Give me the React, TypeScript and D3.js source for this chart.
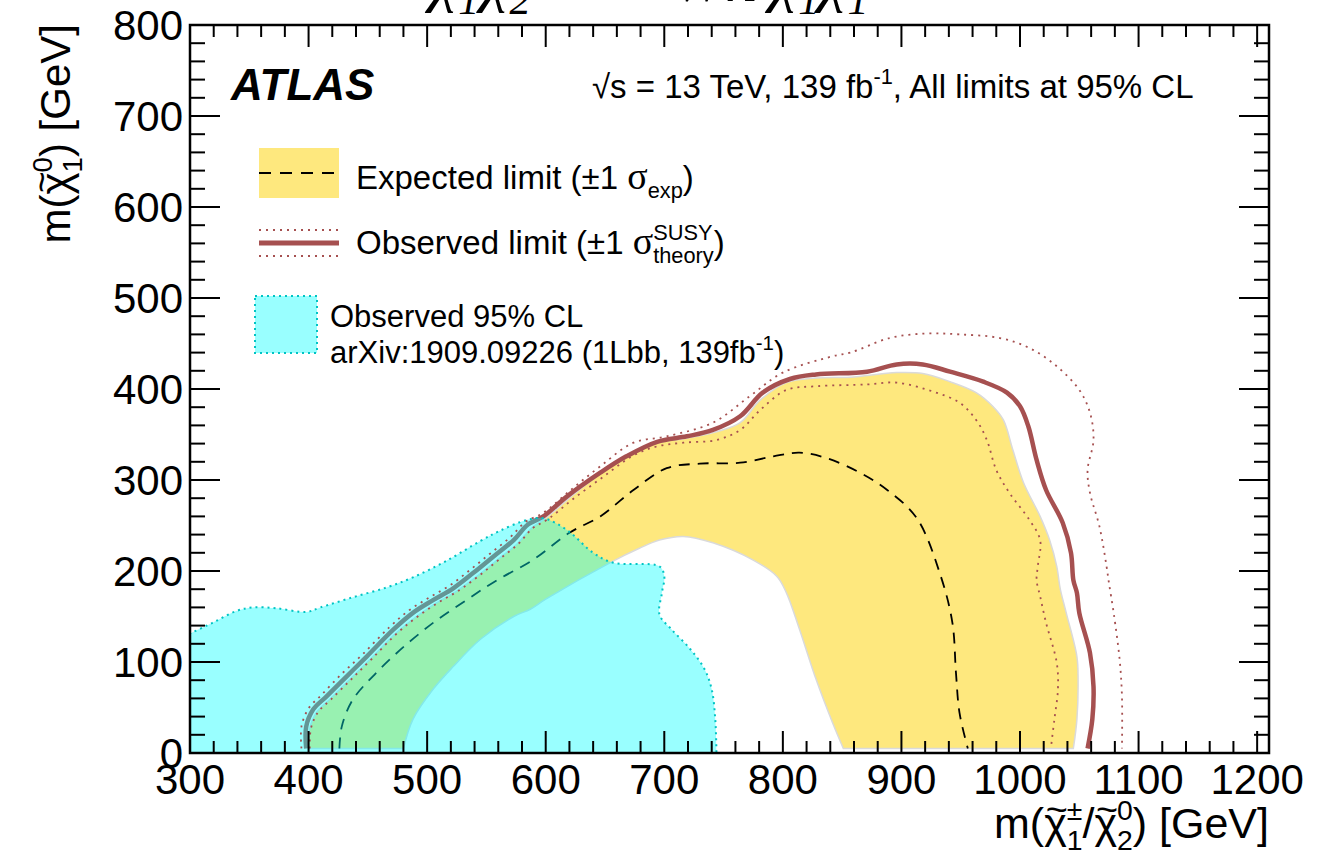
import React, { useEffect, useRef } from "react";
import * as d3 from "d3";

const W = 1332;
const H = 860;
const FRAME = { left: 190, right: 1269, top: 25, bottom: 753 };
const X_DOMAIN: [number, number] = [300, 1210];
const Y_DOMAIN: [number, number] = [0, 800];
const X_MAJOR = [300, 400, 500, 600, 700, 800, 900, 1000, 1100, 1200];
const Y_MAJOR = [0, 100, 200, 300, 400, 500, 600, 700, 800];

const YELLOW = "#fee87e";
const RED = "#a65050";
const CYAN = "rgb(0,255,255)";
const CYAN_EDGE = "#00c4c4";
const FONT = "'Liberation Sans', Arial, Helvetica, sans-serif";
const SERIF = "'Liberation Serif', 'Times New Roman', serif";

// Expected limit (median)
const expected: [number, number][] = [
  [426, 5], [428, 29], [437, 58], [454, 84], [477, 113], [505, 143], [533, 168], [559, 190],
  [589, 212], [620, 242], [646, 260], [674, 289], [702, 313], [730, 318], [764, 319],
  [792, 326], [814, 330], [837, 324], [865, 308], [888, 289], [913, 258], [933, 195],
  [943, 143], [946, 88], [949, 44], [956, 5],
];
// Expected +1 sigma (outer edge of band)
const expectedUp: [number, number][] = [
  [400, 5], [401, 27], [407, 45], [418, 59], [435, 81], [452, 103], [474, 132], [491, 150],
  [508, 165], [525, 178], [542, 194], [559, 212], [576, 230], [588, 247], [600, 258],
  [632, 293], [668, 326], [694, 341], [719, 346], [744, 353], [764, 363], [781, 388],
  [803, 407], [828, 412], [857, 413], [896, 418], [918, 417], [941, 408], [963, 396],
  [977, 381], [986, 366], [994, 333], [1003, 297], [1017, 260], [1025, 234], [1031, 205],
  [1034, 180], [1039, 154], [1048, 106], [1049, 80], [1048, 37], [1045, 5],
];
// Expected -1 sigma (inner edge of band)
const expectedDown: [number, number][] = [
  [480, 5], [488, 37], [505, 70], [522, 95], [545, 125], [573, 150], [587, 158], [600, 169],
  [654, 209], [679, 225], [696, 234], [716, 238], [741, 231], [775, 212], [795, 194],
  [803, 176], [814, 136], [828, 81], [842, 33], [851, 5],
];
// Observed limit
const observed: [number, number][] = [
  [398, 5], [398, 29], [404, 48], [415, 62], [432, 84], [449, 106], [471, 135], [488, 154],
  [505, 168], [522, 181], [539, 198], [556, 216], [573, 234], [585, 251], [598, 260],
  [618, 282], [646, 308], [668, 326], [694, 342], [719, 348], [741, 355], [764, 370],
  [783, 396], [806, 411], [828, 416], [871, 419], [896, 427], [918, 427], [941, 419],
  [969, 408], [989, 396], [1000, 381], [1007, 359], [1014, 322], [1022, 289], [1036, 253],
  [1043, 220], [1045, 190], [1048, 176], [1050, 154], [1059, 110], [1062, 73], [1061, 37],
  [1057, 5],
];
// Observed +1 sigma theory
const observedUp: [number, number][] = [
  [394, 5], [394, 29], [400, 49], [411, 64], [428, 87], [446, 109], [468, 138], [485, 157],
  [502, 171], [519, 184], [536, 201], [553, 219], [570, 237], [583, 254], [598, 264],
  [622, 290], [646, 315], [674, 341], [702, 348], [741, 363], [772, 392], [800, 418],
  [842, 436], [857, 440], [890, 456], [921, 461], [949, 460], [983, 456], [1008, 445],
  [1031, 425], [1050, 399], [1059, 374], [1062, 344], [1057, 311], [1059, 286], [1067, 249],
  [1073, 205], [1075, 187], [1079, 154], [1084, 103], [1086, 62], [1086, 5],
];
// Observed -1 sigma theory
const observedDown: [number, number][] = [
  [401, 5], [402, 27], [408, 45], [419, 59], [436, 81], [453, 103], [475, 132], [492, 150],
  [509, 165], [526, 178], [543, 194], [560, 212], [577, 230], [589, 247], [602, 257],
  [622, 278], [648, 303], [674, 327], [694, 337], [716, 341], [744, 344], [764, 355],
  [781, 377], [803, 399], [828, 403], [871, 405], [896, 407], [927, 397], [949, 385],
  [963, 366], [972, 344], [980, 311], [991, 286], [1008, 256], [1017, 234], [1015, 205],
  [1014, 190], [1017, 172], [1022, 143], [1031, 99], [1032, 70], [1029, 37], [1026, 5],
];
// Observed 95% CL, arXiv:1909.09226 (1Lbb)
const oneLbb: [number, number][] = [
  [290, 126], [301, 132], [319, 143], [339, 156], [353, 160], [373, 159], [398, 155],
  [410, 160], [437, 171], [466, 182], [488, 193], [516, 211], [545, 233], [561, 244],
  [584, 256], [598, 258], [618, 245], [640, 220], [657, 209], [696, 205], [700, 194],
  [698, 176], [696, 152], [706, 136], [722, 114], [734, 92], [740, 70], [743, 37], [744, 0],
];

type Seg =
  | string
  | {
      text?: string;
      serif?: boolean;
      italic?: boolean;
      tilde?: boolean;
      scale?: number;
      sup?: string;
      sub?: string;
    };

function rich(
  parent: any,
  x: number,
  y: number,
  size: number,
  segs: Seg[],
  opts: {
    anchor?: string;
    transform?: string;
    family?: string;
    italic?: boolean;
    weight?: string;
    subShift?: number;
  } = {}
) {
  const t = parent
    .append("text")
    .attr("x", x)
    .attr("y", y)
    .attr("font-size", size)
    .attr("font-family", opts.family || FONT)
    .attr("text-anchor", opts.anchor || "start")
    .attr("fill", "#000");
  if (opts.transform) t.attr("transform", opts.transform);
  if (opts.italic) t.attr("font-style", "italic");
  if (opts.weight) t.attr("font-weight", opts.weight);
  let cur = 0;
  const shift = (s: number) => {
    const dy = s - cur;
    cur = s;
    return dy;
  };
  let pendingDx = 0;
  let count = 0;
  const tildes: number[] = [];
  for (const seg of segs) {
    if (typeof seg === "string" || seg.text !== undefined) {
      const txt = typeof seg === "string" ? seg : seg.text!;
      const ts = t.append("tspan").attr("dy", shift(0)).text(txt);
      if (pendingDx) ts.attr("dx", pendingDx);
      pendingDx = 0;
      if (typeof seg !== "string") {
        if (seg.serif) ts.attr("font-family", SERIF);
        if (seg.italic) ts.attr("font-style", "italic");
        if (seg.scale) ts.attr("font-size", size * seg.scale);
        if (seg.tilde) tildes.push(count);
      }
      count += txt.length;
    } else {
      const ss = size * 0.66;
      let w1 = 0;
      if (seg.sup) {
        const a = t.append("tspan").attr("font-size", ss).attr("dy", shift(-size * 0.42)).text(seg.sup);
        if (pendingDx) a.attr("dx", pendingDx);
        pendingDx = 0;
        w1 = a.node().getComputedTextLength();
        count += seg.sup.length;
      }
      if (seg.sub) {
        const b = t
          .append("tspan")
          .attr("font-size", ss)
          .attr("dy", shift(size * (opts.subShift ?? 0.28)))
          .text(seg.sub);
        const dx = (seg.sup ? -w1 : 0) + pendingDx;
        if (dx) b.attr("dx", dx);
        pendingDx = 0;
        const w2 = b.node().getComputedTextLength();
        if (seg.sup && w1 > w2) pendingDx = w1 - w2;
        count += seg.sub.length;
      }
    }
  }
  // tildes drawn above marked characters
  const node = t.node();
  tildes.forEach((i) => {
    const p = node.getStartPositionOfChar(i);
    const e = node.getEndPositionOfChar(i);
    const s2 = size * 0.88;
    const tt = parent
      .append("text")
      .attr("x", (p.x + e.x) / 2 + size * 0.03)
      .attr("y", p.y - size * 0.38)
      .attr("font-size", s2)
      .attr("font-family", FONT)
      .attr("font-weight", "300")
      .attr("text-anchor", "middle")
      .attr("fill", "#000")
      .text("~");
    if (opts.transform) tt.attr("transform", opts.transform);
  });
  return t;
}

function draw(node: SVGSVGElement) {
  const svg = d3.select(node);
  svg.selectAll("*").remove();
  svg.append("rect").attr("width", W).attr("height", H).attr("fill", "#fff");

  const x = d3.scaleLinear().domain(X_DOMAIN).range([FRAME.left, FRAME.right]);
  const y = d3.scaleLinear().domain(Y_DOMAIN).range([FRAME.bottom, FRAME.top]);

  svg
    .append("defs")
    .append("clipPath")
    .attr("id", "plotclip")
    .append("rect")
    .attr("x", FRAME.left)
    .attr("y", FRAME.top)
    .attr("width", FRAME.right - FRAME.left)
    .attr("height", FRAME.bottom - FRAME.top);

  const line = d3
    .line<[number, number]>()
    .x((d) => x(d[0]))
    .y((d) => y(d[1]))
    .curve(d3.curveCatmullRom.alpha(0.5));
  const lin = d3
    .line<[number, number]>()
    .x((d) => x(d[0]))
    .y((d) => y(d[1]));

  const plot = svg.append("g").attr("clip-path", "url(#plotclip)");

  // expected band
  const bandD =
    (line(expectedUp) as string) +
    (line([...expectedDown].reverse()) as string).replace(/^M/, "L") +
    "Z";
  plot.append("path").attr("d", bandD).attr("fill", YELLOW).attr("stroke", "#dadada").attr("stroke-width", 1.5);

  // expected median
  plot
    .append("path")
    .attr("d", line(expected))
    .attr("fill", "none")
    .attr("stroke", "#000")
    .attr("stroke-width", 1.8)
    .attr("stroke-dasharray", "11,8");

  // observed
  plot
    .append("path")
    .attr("d", line(observed))
    .attr("fill", "none")
    .attr("stroke", RED)
    .attr("stroke-width", 4.5)
    .attr("stroke-linejoin", "round");

  // 1Lbb region
  const last = oneLbb[oneLbb.length - 1];
  const cyanD =
    (line(oneLbb) as string) +
    (lin([
      [last[0], -10],
      [280, -10],
      [280, oneLbb[0][1]],
    ]) as string).replace(/^M/, "L") +
    "Z";
  plot.append("path").attr("d", cyanD).attr("fill", CYAN).attr("fill-opacity", 0.4);
  plot
    .append("path")
    .attr("d", line(oneLbb))
    .attr("fill", "none")
    .attr("stroke", CYAN_EDGE)
    .attr("stroke-width", 2)
    .attr("stroke-dasharray", "2,4");

  // observed +-1 sigma theory
  for (const c of [observedUp, observedDown]) {
    plot
      .append("path")
      .attr("d", line(c))
      .attr("fill", "none")
      .attr("stroke", RED)
      .attr("stroke-width", 1.8)
      .attr("stroke-dasharray", "2,5");
  }

  // frame
  svg
    .append("rect")
    .attr("x", FRAME.left)
    .attr("y", FRAME.top)
    .attr("width", FRAME.right - FRAME.left)
    .attr("height", FRAME.bottom - FRAME.top)
    .attr("fill", "none")
    .attr("stroke", "#000")
    .attr("stroke-width", 2.5);

  const ticks = svg.append("g").attr("stroke", "#000").attr("stroke-width", 2);
  d3.range(X_DOMAIN[0], X_DOMAIN[1] + 0.1, 20).forEach((v) => {
    const major = v % 100 === 0;
    const len = major ? 22 : 12;
    ticks.append("line").attr("x1", x(v)).attr("x2", x(v)).attr("y1", FRAME.bottom).attr("y2", FRAME.bottom - len);
    ticks.append("line").attr("x1", x(v)).attr("x2", x(v)).attr("y1", FRAME.top).attr("y2", FRAME.top + len);
  });
  d3.range(Y_DOMAIN[0], Y_DOMAIN[1] + 0.1, 20).forEach((v) => {
    const major = v % 100 === 0;
    const len = major ? 30 : 15;
    ticks.append("line").attr("y1", y(v)).attr("y2", y(v)).attr("x1", FRAME.left).attr("x2", FRAME.left + len);
    ticks.append("line").attr("y1", y(v)).attr("y2", y(v)).attr("x1", FRAME.right).attr("x2", FRAME.right - len);
  });

  // tick labels
  const lab = svg.append("g").attr("font-family", FONT).attr("font-size", 42).attr("fill", "#000");
  X_MAJOR.forEach((v) => {
    lab.append("text").attr("x", x(v)).attr("y", FRAME.bottom + 41).attr("text-anchor", "middle").text(v);
  });
  Y_MAJOR.forEach((v) => {
    lab.append("text").attr("x", FRAME.left - 7).attr("y", y(v) + 15).attr("text-anchor", "end").text(v);
  });

  // axis titles
  rich(svg, 0, 0, 42, ["m(", { text: "χ", tilde: true }, { sup: "0", sub: "1" }, ") [GeV]"], {
    anchor: "end",
    transform: "translate(70,24) rotate(-90)",
  });
  rich(
    svg,
    FRAME.right,
    838,
    43,
    [
      "m(",
      { text: "χ", tilde: true },
      { sup: "±", sub: "1" },
      "/",
      { text: "χ", tilde: true },
      { sup: "0", sub: "2" },
      ") [GeV]",
    ],
    { anchor: "end" }
  );

  // clipped process title at top
  rich(
    svg,
    430,
    -1,
    64,
    [{ text: "χ", tilde: true }, { sup: "±", sub: "1" }, { text: "χ", tilde: true }, { sup: "0", sub: "2" }],
    { family: SERIF, italic: true, subShift: 0.24 }
  );
  rich(svg, 592, 1, 64, ["→ Wh"], { family: SERIF, italic: true });
  rich(
    svg,
    770,
    -1,
    64,
    [{ text: "χ", tilde: true }, { sup: "0", sub: "1" }, { text: "χ", tilde: true }, { sup: "0", sub: "1" }],
    { family: SERIF, italic: true, subShift: 0.24 }
  );

  // ATLAS label
  svg
    .append("text")
    .attr("x", 231)
    .attr("y", 100)
    .attr("font-family", FONT)
    .attr("font-size", 44)
    .attr("font-weight", "bold")
    .attr("font-style", "italic")
    .text("ATLAS");

  rich(svg, 592, 98, 33, ["√s = 13 TeV, 139 fb", { sup: "-1" }, ", All limits at 95% CL"]);

  // legend
  const leg = svg.append("g");
  leg.append("rect").attr("x", 259).attr("y", 148).attr("width", 80).attr("height", 50).attr("fill", YELLOW);
  leg
    .append("line")
    .attr("x1", 259)
    .attr("x2", 339)
    .attr("y1", 173)
    .attr("y2", 173)
    .attr("stroke", "#000")
    .attr("stroke-width", 1.8)
    .attr("stroke-dasharray", "12,9");
  rich(leg, 356, 189, 33, ["Expected limit (±1 ", { text: "σ", serif: true, scale: 1.15 }, { sub: "exp" }, ")"]);

  [230, 256].forEach((yy) =>
    leg
      .append("line")
      .attr("x1", 259)
      .attr("x2", 339)
      .attr("y1", yy)
      .attr("y2", yy)
      .attr("stroke", RED)
      .attr("stroke-width", 1.8)
      .attr("stroke-dasharray", "2,5")
  );
  leg
    .append("line")
    .attr("x1", 259)
    .attr("x2", 339)
    .attr("y1", 243)
    .attr("y2", 243)
    .attr("stroke", RED)
    .attr("stroke-width", 5);
  rich(leg, 356, 254, 33, [
    "Observed limit (±1 ",
    { text: "σ", serif: true, scale: 1.15 },
    { sup: "SUSY", sub: "theory" },
    ")",
  ]);

  leg
    .append("rect")
    .attr("x", 255)
    .attr("y", 296)
    .attr("width", 62)
    .attr("height", 57)
    .attr("fill", CYAN)
    .attr("fill-opacity", 0.4)
    .attr("stroke", CYAN_EDGE)
    .attr("stroke-width", 2)
    .attr("stroke-dasharray", "2,4");
  rich(leg, 330, 327, 31, ["Observed 95% CL"]);
  rich(leg, 330, 363, 31, ["arXiv:1909.09226 (1Lbb, 139fb", { sup: "-1" }, ")"]);
}

export default function App() {
  const ref = useRef<SVGSVGElement>(null);
  useEffect(() => {
    if (ref.current) draw(ref.current);
  }, []);
  return (
    <svg
      ref={ref}
      width={W}
      height={H}
      style={{ position: "absolute", left: 0, top: 0, display: "block" }}
    />
  );
}
